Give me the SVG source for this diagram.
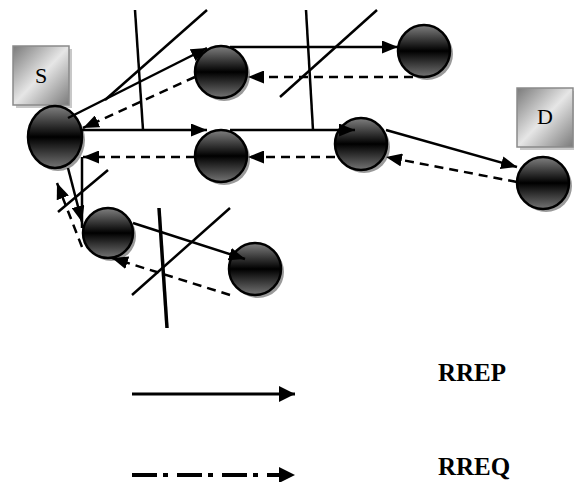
<svg xmlns="http://www.w3.org/2000/svg" width="574" height="482" viewBox="0 0 574 482">
<defs>
<linearGradient id="ng" x1="0" y1="0" x2="0" y2="1">
<stop offset="0" stop-color="#808080"/>
<stop offset="0.5" stop-color="#000"/>
<stop offset="1" stop-color="#747474"/>
</linearGradient>
<linearGradient id="bg" x1="0" y1="0" x2="1" y2="1">
<stop offset="0" stop-color="#7a7a7a"/>
<stop offset="0.5" stop-color="#e6e6e6"/>
<stop offset="1" stop-color="#7a7a7a"/>
</linearGradient>
<marker id="ah" viewBox="0 0 16 13" refX="16" refY="6.5" markerWidth="16" markerHeight="13" markerUnits="userSpaceOnUse" orient="auto">
<path d="M0,0 L16,6.5 L0,13 Z" fill="#000"/>
</marker>
<marker id="ahl" viewBox="0 0 16 16" refX="16" refY="8" markerWidth="16" markerHeight="16" markerUnits="userSpaceOnUse" orient="auto">
<path d="M0,0 L16,8 L0,16 Z" fill="#000"/>
</marker>
</defs>
<style>
.node .sh{fill:#9a9a9a}
.node .c{fill:url(#ng);stroke:#000;stroke-width:2.5}
.box .sh{fill:#c8c8c8}
.box .b{fill:url(#bg);stroke:#8a8a8a;stroke-width:1.5}
.lbl{font-family:"Liberation Serif",serif;font-size:22px;fill:#000}
.leg{font-family:"Liberation Serif",serif;font-size:25px;font-weight:bold;fill:#000}
.s{stroke:#000;stroke-width:2.5;fill:none;marker-end:url(#ah)}
.d{stroke:#000;stroke-width:2.5;fill:none;stroke-dasharray:9 6;marker-end:url(#ah)}
.cut{stroke:#000;stroke-width:2.5;fill:none}
</style>
<g id="boxS" class="box"><rect class="sh" x="16" y="49" width="56" height="59"/><rect class="b" x="13" y="46" width="56" height="59"/><text class="lbl" x="41" y="83" text-anchor="middle">S</text></g>
<g id="boxD" class="box"><rect class="sh" x="520" y="91" width="56" height="59"/><rect class="b" x="517" y="88" width="56" height="59"/><text class="lbl" x="545" y="124" text-anchor="middle">D</text></g>
<g id="nodeS" class="node"><ellipse class="sh" cx="58" cy="140" rx="27" ry="31"/><ellipse class="c" cx="55" cy="137" rx="27" ry="31"/></g>
<g id="n1" class="node"><circle class="sh" cx="224" cy="75" r="26"/><circle class="c" cx="221" cy="72" r="26"/></g>
<g id="n2" class="node"><circle class="sh" cx="224" cy="159" r="26"/><circle class="c" cx="221" cy="156" r="26"/></g>
<g id="n3" class="node"><circle class="sh" cx="427" cy="54" r="26"/><circle class="c" cx="424" cy="51" r="26"/></g>
<g id="n4" class="node"><circle class="sh" cx="364" cy="147" r="26"/><circle class="c" cx="361" cy="144" r="26"/></g>
<g id="nodeD" class="node"><circle class="sh" cx="546" cy="186" r="26"/><circle class="c" cx="543" cy="183" r="26"/></g>
<g id="n5" class="node"><circle class="sh" cx="111" cy="236" r="25"/><circle class="c" cx="108" cy="233" r="25"/></g>
<g id="n6" class="node"><circle class="sh" cx="258" cy="272" r="26"/><circle class="c" cx="255" cy="269" r="26"/></g>
<g id="connectors">
<path class="s" d="M68 118 L207 48"/>
<path class="d" d="M195 77 L83 128"/>
<path class="s" d="M230 47 L398 47"/>
<path class="d" d="M413 77 L248 77"/>
<path class="s" d="M82 130 L207 130"/>
<path class="s" d="M230 130 L355 130"/>
<path class="d" d="M335 157 L248 157"/>
<path class="d" d="M195 157 L83 157"/>
<path class="s" d="M386 130 L517 167"/>
<path class="d" d="M517 182 L386 157"/>
<path class="s" d="M68 168 L82 222"/>
<path class="cut" d="M82 157 L82 228"/>
<path class="d" d="M82 247 L57 183"/>
<path class="s" d="M133 223 L245 259"/>
<path class="d" d="M230 295 L112 258"/>
</g>
<g id="cuts">
<path class="cut" d="M135 10 L143 130"/>
<path class="cut" d="M207 10 L105 100"/>
<path class="cut" d="M306 10 L313 130"/>
<path class="cut" d="M377 10 L280 97"/>
<path class="cut" d="M108 170 L58 212"/>
<path class="cut" d="M159 208 L167 328" style="stroke-width:3.5"/>
<path class="cut" d="M230 208 L132 295"/>
</g>
<g id="legend">
<path d="M132 394 L295 394" style="stroke:#000;stroke-width:3;fill:none;marker-end:url(#ahl)"/>
<path d="M132 475 L281 475" style="stroke:#000;stroke-width:4;fill:none;stroke-dasharray:25 6 5 9"/>
<path d="M279 467 L295 475 L279 483 Z" fill="#000"/>
<text class="leg" x="438" y="381">RREP</text>
<text class="leg" x="438" y="475">RREQ</text>
</g>
</svg>
